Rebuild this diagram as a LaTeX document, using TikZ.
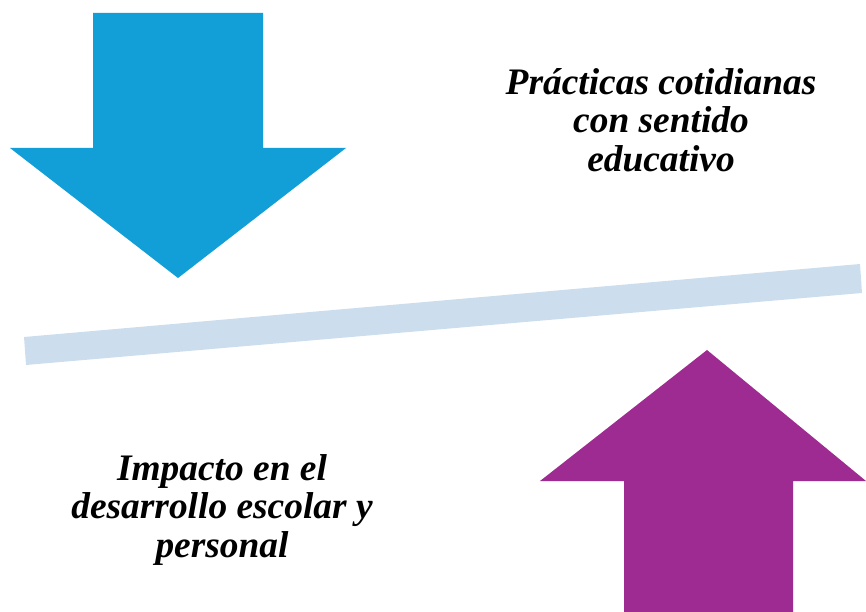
\documentclass[tikz,border=0pt]{standalone}
\usepackage{fontspec}
\setmainfont{Liberation Serif}
\definecolor{arrowblue}{RGB}{18,158,214}
\definecolor{arrowpurple}{RGB}{158,43,145}
\definecolor{barblue}{RGB}{204,222,238}
\begin{document}
\begin{tikzpicture}[x=1pt,y=-1pt,
  lbl/.style={align=center,font=\fontsize{37.4}{38.5}\selectfont\bfseries\itshape,inner sep=0pt}]
\useasboundingbox (0,0) rectangle (866,612);
% blue down arrow
\fill[arrowblue] (93,13) -- (263,13) -- (263,148) -- (346,148) -- (178,278) -- (10,148) -- (93,148) -- cycle;
% bar
\fill[barblue] (24,337) -- (860,264) -- (862,293) -- (26,365) -- cycle;
% purple up arrow
\fill[arrowpurple] (707,350) -- (866,481) -- (793,481) -- (793,612) -- (624,612) -- (624,481) -- (540,481) -- cycle;
\node[lbl] (top) at (661,120) {Prácticas cotidianas\\con sentido\\educativo};
\node[lbl] (bottom) at (222,510) {Impacto en el\\desarrollo escolar y\\personal};
\end{tikzpicture}
\end{document}
